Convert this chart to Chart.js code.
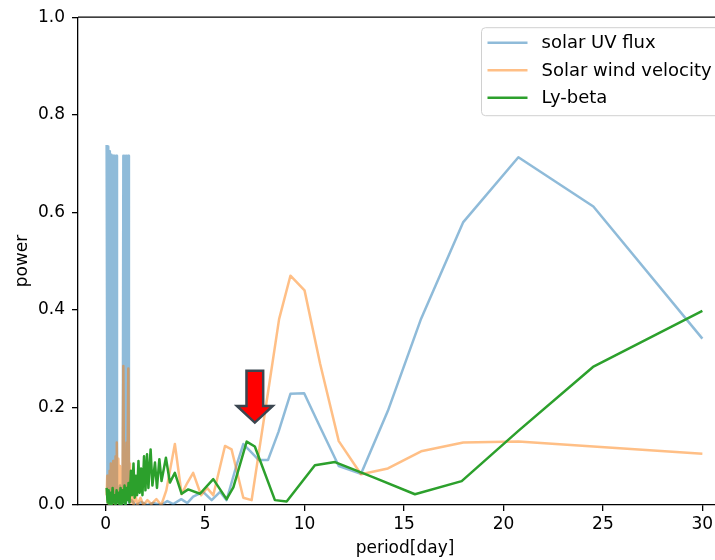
<!DOCTYPE html>
<html>
<head>
<meta charset="utf-8">
<script src="https://cdn.jsdelivr.net/npm/chart.js"></script>
<style>
  html, body { margin: 0; padding: 0; background: #fff; overflow: hidden; }
  #wrap { width: 735px; height: 560px; }
</style>
</head>
<body>
<div id="wrap"><canvas id="chart" width="735" height="560"></canvas></div>
<script>
// Periodogram power against period (days) for three series

const uvPeriod = [
  0.05, 0.09, 0.13, 0.17, 0.21, 0.25, 0.29, 0.33, 0.37, 0.41, 0.45, 0.49, 0.53, 0.57,
  0.62, 0.67, 0.72, 0.77, 0.82, 0.86,
  0.89, 0.93, 0.97, 1.01, 1.05, 1.09, 1.13, 1.17,
  1.3, 1.5, 1.8, 2.1, 2.4, 2.8, 3.1, 3.4, 3.8, 4.1, 4.4, 4.9, 5.33, 5.75, 6.08,
  6.57, 6.92, 7.28, 7.70, 8.16, 8.69, 9.29, 9.98, 10.78, 11.72, 12.84, 14.19,
  15.86, 17.98, 20.75, 24.52, 30
];
const uvPower = [
  0.738, 0.01, 0.735, 0.02, 0.725, 0.0, 0.718, 0.015, 0.716, 0.005, 0.716, 0.02, 0.716, 0.008,
  0.03, 0.01, 0.04, 0.0, 0.02, 0.01,
  0.716, 0.01, 0.716, 0.0, 0.716, 0.015, 0.716, 0.005,
  0.01, 0.0, 0.006, 0.0, 0.004, 0.0, 0.008, 0.002, 0.012, 0.004, 0.017, 0.027, 0.01, 0.027, 0.01,
  0.08, 0.125, 0.11, 0.092, 0.092, 0.15, 0.228, 0.229, 0.16, 0.08, 0.064, 0.193,
  0.382, 0.58, 0.713, 0.612, 0.341
];

const windPeriod = [
  0.05, 0.08, 0.11, 0.14, 0.17, 0.2, 0.23, 0.26, 0.29, 0.32, 0.35, 0.38, 0.41, 0.44,
  0.47, 0.5, 0.53, 0.56, 0.6, 0.64, 0.68, 0.72, 0.76, 0.8, 0.84, 0.89, 0.93, 0.97,
  1.01, 1.05, 1.09, 1.14, 1.18, 1.22, 1.27, 1.33, 1.4, 1.5, 1.6, 1.75, 1.9, 2.1,
  2.3, 2.55, 2.8, 3.05, 3.48, 3.82, 4.1, 4.4, 4.8, 5.1, 5.41, 6.0, 6.33, 6.92, 7.34,
  7.70, 8.16, 8.72, 9.29, 10.0, 10.78, 11.72, 12.84, 14.19, 15.86, 17.98, 20.75, 24.52, 30
];
const windPower = [
  0.02, 0.06, 0.005, 0.045, 0.0, 0.07, 0.01, 0.085, 0.0, 0.05, 0.01, 0.09, 0.005, 0.06,
  0.0, 0.1, 0.01, 0.128, 0.02, 0.095, 0.01, 0.08, 0.0, 0.065, 0.01, 0.285, 0.02, 0.07,
  0.01, 0.128, 0.02, 0.28, 0.01, 0.085, 0.005, 0.03, 0.0, 0.02, 0.0, 0.015, 0.0, 0.01,
  0.002, 0.012, 0.0, 0.03, 0.125, 0.022, 0.045, 0.066, 0.02, 0.035, 0.02, 0.121, 0.114, 0.015, 0.01,
  0.107, 0.23, 0.381, 0.47, 0.44, 0.29, 0.131, 0.063, 0.075, 0.11, 0.128, 0.13, 0.12, 0.105
];

const lyPeriod = [
  0.05, 0.1, 0.15, 0.2, 0.25, 0.3, 0.35, 0.4, 0.45, 0.5, 0.55, 0.6, 0.65, 0.7, 0.75,
  0.8, 0.85, 0.9, 0.95, 1.0, 1.05, 1.1, 1.15, 1.2, 1.27, 1.33, 1.4, 1.46, 1.52, 1.58,
  1.65, 1.71, 1.78, 1.85, 1.93, 2.0, 2.08, 2.15, 2.26, 2.35, 2.48, 2.58, 2.7, 2.81,
  3.03, 3.23, 3.48, 3.82, 4.15, 4.74, 5.41, 6.08, 6.42, 7.09, 7.5, 8.51, 9.1, 10.52,
  11.53, 13.5, 15.55, 17.9, 20.75, 24.5, 30
];
const lyPower = [
  0.035, 0.005, 0.03, 0.0, 0.025, 0.0, 0.035, 0.005, 0.02, 0.0, 0.03, 0.005, 0.025, 0.0, 0.035,
  0.0, 0.03, 0.005, 0.04, 0.0, 0.035, 0.01, 0.045, 0.005, 0.07, 0.02, 0.085, 0.015, 0.06, 0.02,
  0.09, 0.025, 0.075, 0.02, 0.1, 0.03, 0.104, 0.035, 0.114, 0.04, 0.087, 0.035, 0.094, 0.049,
  0.097, 0.046, 0.066, 0.023, 0.032, 0.023, 0.053, 0.012, 0.036, 0.13, 0.12, 0.01, 0.007, 0.0815,
  0.088, 0.056, 0.022, 0.049, 0.152, 0.283, 0.398
];

const seriesNames = ['solar UV flux', 'Solar wind velocity', 'Ly-beta'];
const xTicks = [0, 5, 10, 15, 20, 25, 30];
const yTicks = [0, 0.2, 0.4, 0.6, 0.8, 1.0];

// red marker arrow over the ~7.5 day bump (data units)
const arrowPeriod = 7.5;
const arrowTop = 0.275;
const arrowBase = 0.203;
const arrowTip = 0.169;
const arrowShaft = 0.42;
const arrowHead = 0.9;

const FONT = "'DejaVu Sans', sans-serif";

function pairs(xs, ys) {
  return xs.map((x, i) => ({ x: x, y: ys[i] }));
}

// top/right spines (left and bottom come from the axis borders)
const framePlugin = {
  id: 'frame',
  beforeDatasetsDraw(chart) {
    const { ctx, chartArea: a } = chart;
    ctx.save();
    ctx.strokeStyle = '#000';
    ctx.lineWidth = 1.3;
    ctx.beginPath();
    ctx.moveTo(a.left, a.top);
    ctx.lineTo(a.right, a.top);
    ctx.lineTo(a.right, a.bottom);
    ctx.stroke();
    ctx.restore();
  }
};

const arrowPlugin = {
  id: 'arrow',
  afterDatasetsDraw(chart) {
    const { ctx, scales } = chart;
    const xs = scales.x, ys = scales.y;
    const cx = xs.getPixelForValue(arrowPeriod);
    const sl = xs.getPixelForValue(arrowPeriod - arrowShaft);
    const sr = xs.getPixelForValue(arrowPeriod + arrowShaft);
    const hl = xs.getPixelForValue(arrowPeriod - arrowHead);
    const hr = xs.getPixelForValue(arrowPeriod + arrowHead);
    const top = ys.getPixelForValue(arrowTop);
    const base = ys.getPixelForValue(arrowBase);
    const tip = ys.getPixelForValue(arrowTip);
    ctx.save();
    ctx.beginPath();
    ctx.moveTo(sl, top);
    ctx.lineTo(sr, top);
    ctx.lineTo(sr, base);
    ctx.lineTo(hr, base);
    ctx.lineTo(cx, tip);
    ctx.lineTo(hl, base);
    ctx.lineTo(sl, base);
    ctx.closePath();
    ctx.fillStyle = '#ff0000';
    ctx.fill();
    ctx.lineJoin = 'miter';
    ctx.lineWidth = 2.5;
    ctx.strokeStyle = '#3b4650';
    ctx.stroke();
    ctx.restore();
  }
};

// matplotlib-style legend box in the upper right corner
const legendPlugin = {
  id: 'mplLegend',
  afterDraw(chart) {
    const { ctx, chartArea: a } = chart;
    const x0 = a.right - 250.5, y0 = a.top + 10.5;
    const w = 245, h = 88, r = 4;
    ctx.save();
    ctx.beginPath();
    ctx.roundRect(x0, y0, w, h, r);
    ctx.fillStyle = 'rgba(255,255,255,0.8)';
    ctx.fill();
    ctx.strokeStyle = '#d0d0d0';
    ctx.lineWidth = 1;
    ctx.stroke();
    ctx.font = '18px ' + FONT;
    ctx.textBaseline = 'middle';
    chart.data.datasets.forEach((ds, i) => {
      const y = y0 + 15 + i * 27.5;
      ctx.beginPath();
      ctx.moveTo(x0 + 6, y);
      ctx.lineTo(x0 + 46, y);
      ctx.strokeStyle = ds.borderColor;
      ctx.lineWidth = ds.borderWidth;
      ctx.stroke();
      ctx.fillStyle = '#000';
      ctx.fillText(ds.label, x0 + 60, y + 1);
    });
    ctx.restore();
  }
};

const axisLine = { display: true, color: '#000', width: 1.3 };
const tickGrid = { display: true, drawOnChartArea: false, drawTicks: true, tickLength: 6, color: '#000', lineWidth: 1.3 };

new Chart(document.getElementById('chart'), {
  type: 'line',
  data: {
    datasets: [
      {
        label: seriesNames[0],
        data: pairs(uvPeriod, uvPower),
        borderColor: 'rgba(31,119,180,0.5)',
        borderWidth: 2.5,
        order: 2
      },
      {
        label: seriesNames[1],
        data: pairs(windPeriod, windPower),
        borderColor: 'rgba(255,127,14,0.5)',
        borderWidth: 2.5,
        order: 1
      },
      {
        label: seriesNames[2],
        data: pairs(lyPeriod, lyPower),
        borderColor: '#2ca02c',
        borderWidth: 2.5,
        order: 0
      }
    ]
  },
  options: {
    responsive: false,
    animation: false,
    devicePixelRatio: 1,
    layout: { padding: { top: 17, right: 3, left: 0, bottom: 0 } },
    elements: {
      point: { radius: 0 },
      line: { tension: 0, fill: false, borderJoinStyle: 'round', borderCapStyle: 'butt' }
    },
    plugins: {
      legend: { display: false },
      tooltip: { enabled: false }
    },
    scales: {
      x: {
        type: 'linear',
        min: -1.39,
        max: 31.49,
        border: axisLine,
        grid: tickGrid,
        afterBuildTicks: (s) => { s.ticks = xTicks.map(v => ({ value: v })); },
        afterFit: (s) => { s.height = 55; },
        ticks: {
          color: '#000',
          padding: 3,
          maxRotation: 0,
          font: { family: FONT, size: 17 },
          callback: (v) => String(v)
        },
        title: {
          display: true,
          text: 'period[day]',
          color: '#000',
          padding: { top: 0, bottom: 1 },
          font: { family: FONT, size: 17 }
        }
      },
      y: {
        type: 'linear',
        min: 0,
        max: 1,
        border: axisLine,
        grid: tickGrid,
        afterBuildTicks: (s) => { s.ticks = yTicks.map(v => ({ value: v })); },
        afterFit: (s) => { s.width = 78; },
        ticks: {
          color: '#000',
          padding: 7,
          font: { family: FONT, size: 17 },
          callback: (v) => Number(v).toFixed(1)
        },
        title: {
          display: true,
          text: 'power',
          color: '#000',
          padding: { top: 12, bottom: 0 },
          font: { family: FONT, size: 17 }
        }
      }
    }
  },
  plugins: [framePlugin, arrowPlugin, legendPlugin]
});
</script>
</body>
</html>
